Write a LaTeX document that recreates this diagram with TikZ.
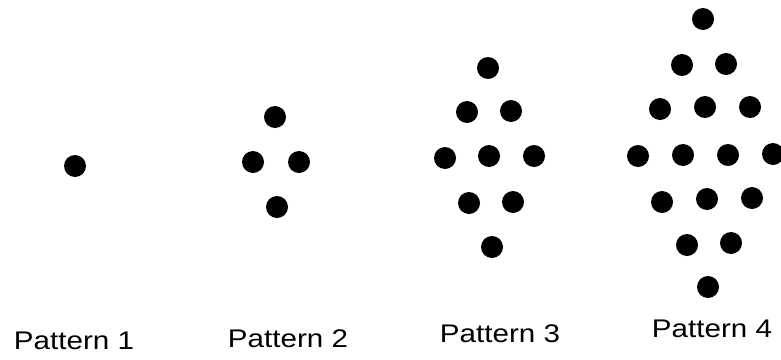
\documentclass[tikz,border=0pt]{standalone}
\usepackage{fontspec}
\setmainfont{Liberation Sans}
\begin{document}
\begin{tikzpicture}[x=1pt,y=-1pt,
  dot/.style={circle,fill=black,inner sep=0pt,minimum size=22pt},
  lbl/.style={anchor=base,inner sep=0pt,font=\fontsize{25.5}{28}\selectfont,xscale=1.16}]
\useasboundingbox (0,0) rectangle (781,359);
% Pattern 1
\node[dot] (a1) at (75,166) {};
% Pattern 2
\node[dot] (b1) at (275,117) {};
\node[dot] (b2) at (253,162) {};
\node[dot] (b3) at (299,162) {};
\node[dot] (b4) at (277,207) {};
% Pattern 3
\node[dot] (c1) at (488,68) {};
\node[dot] (c2) at (467,112) {};
\node[dot] (c3) at (511,111) {};
\node[dot] (c4) at (445,158) {};
\node[dot] (c5) at (489,156) {};
\node[dot] (c6) at (534,156) {};
\node[dot] (c7) at (469,203) {};
\node[dot] (c8) at (513,202) {};
\node[dot] (c9) at (492,247) {};
% Pattern 4
\node[dot] (d1) at (703,19) {};
\node[dot] (d2) at (682,65) {};
\node[dot] (d3) at (726,64) {};
\node[dot] (d4) at (660,109) {};
\node[dot] (d5) at (705,107) {};
\node[dot] (d6) at (750,107) {};
\node[dot] (d7) at (638,156) {};
\node[dot] (d8) at (683,155) {};
\node[dot] (d9) at (728,155) {};
\node[dot] (d10) at (773,154) {};
\node[dot] (d11) at (662,202) {};
\node[dot] (d12) at (707,199) {};
\node[dot] (d13) at (752,198) {};
\node[dot] (d14) at (687,245) {};
\node[dot] (d15) at (731,243) {};
\node[dot] (d16) at (708,287) {};
% Labels
\node[lbl] (l1) at (74,349) {Pattern 1};
\node[lbl] (l2) at (288,347) {Pattern 2};
\node[lbl] (l3) at (500,342) {Pattern 3};
\node[lbl] (l4) at (712,337) {Pattern 4};
\end{tikzpicture}
\end{document}
